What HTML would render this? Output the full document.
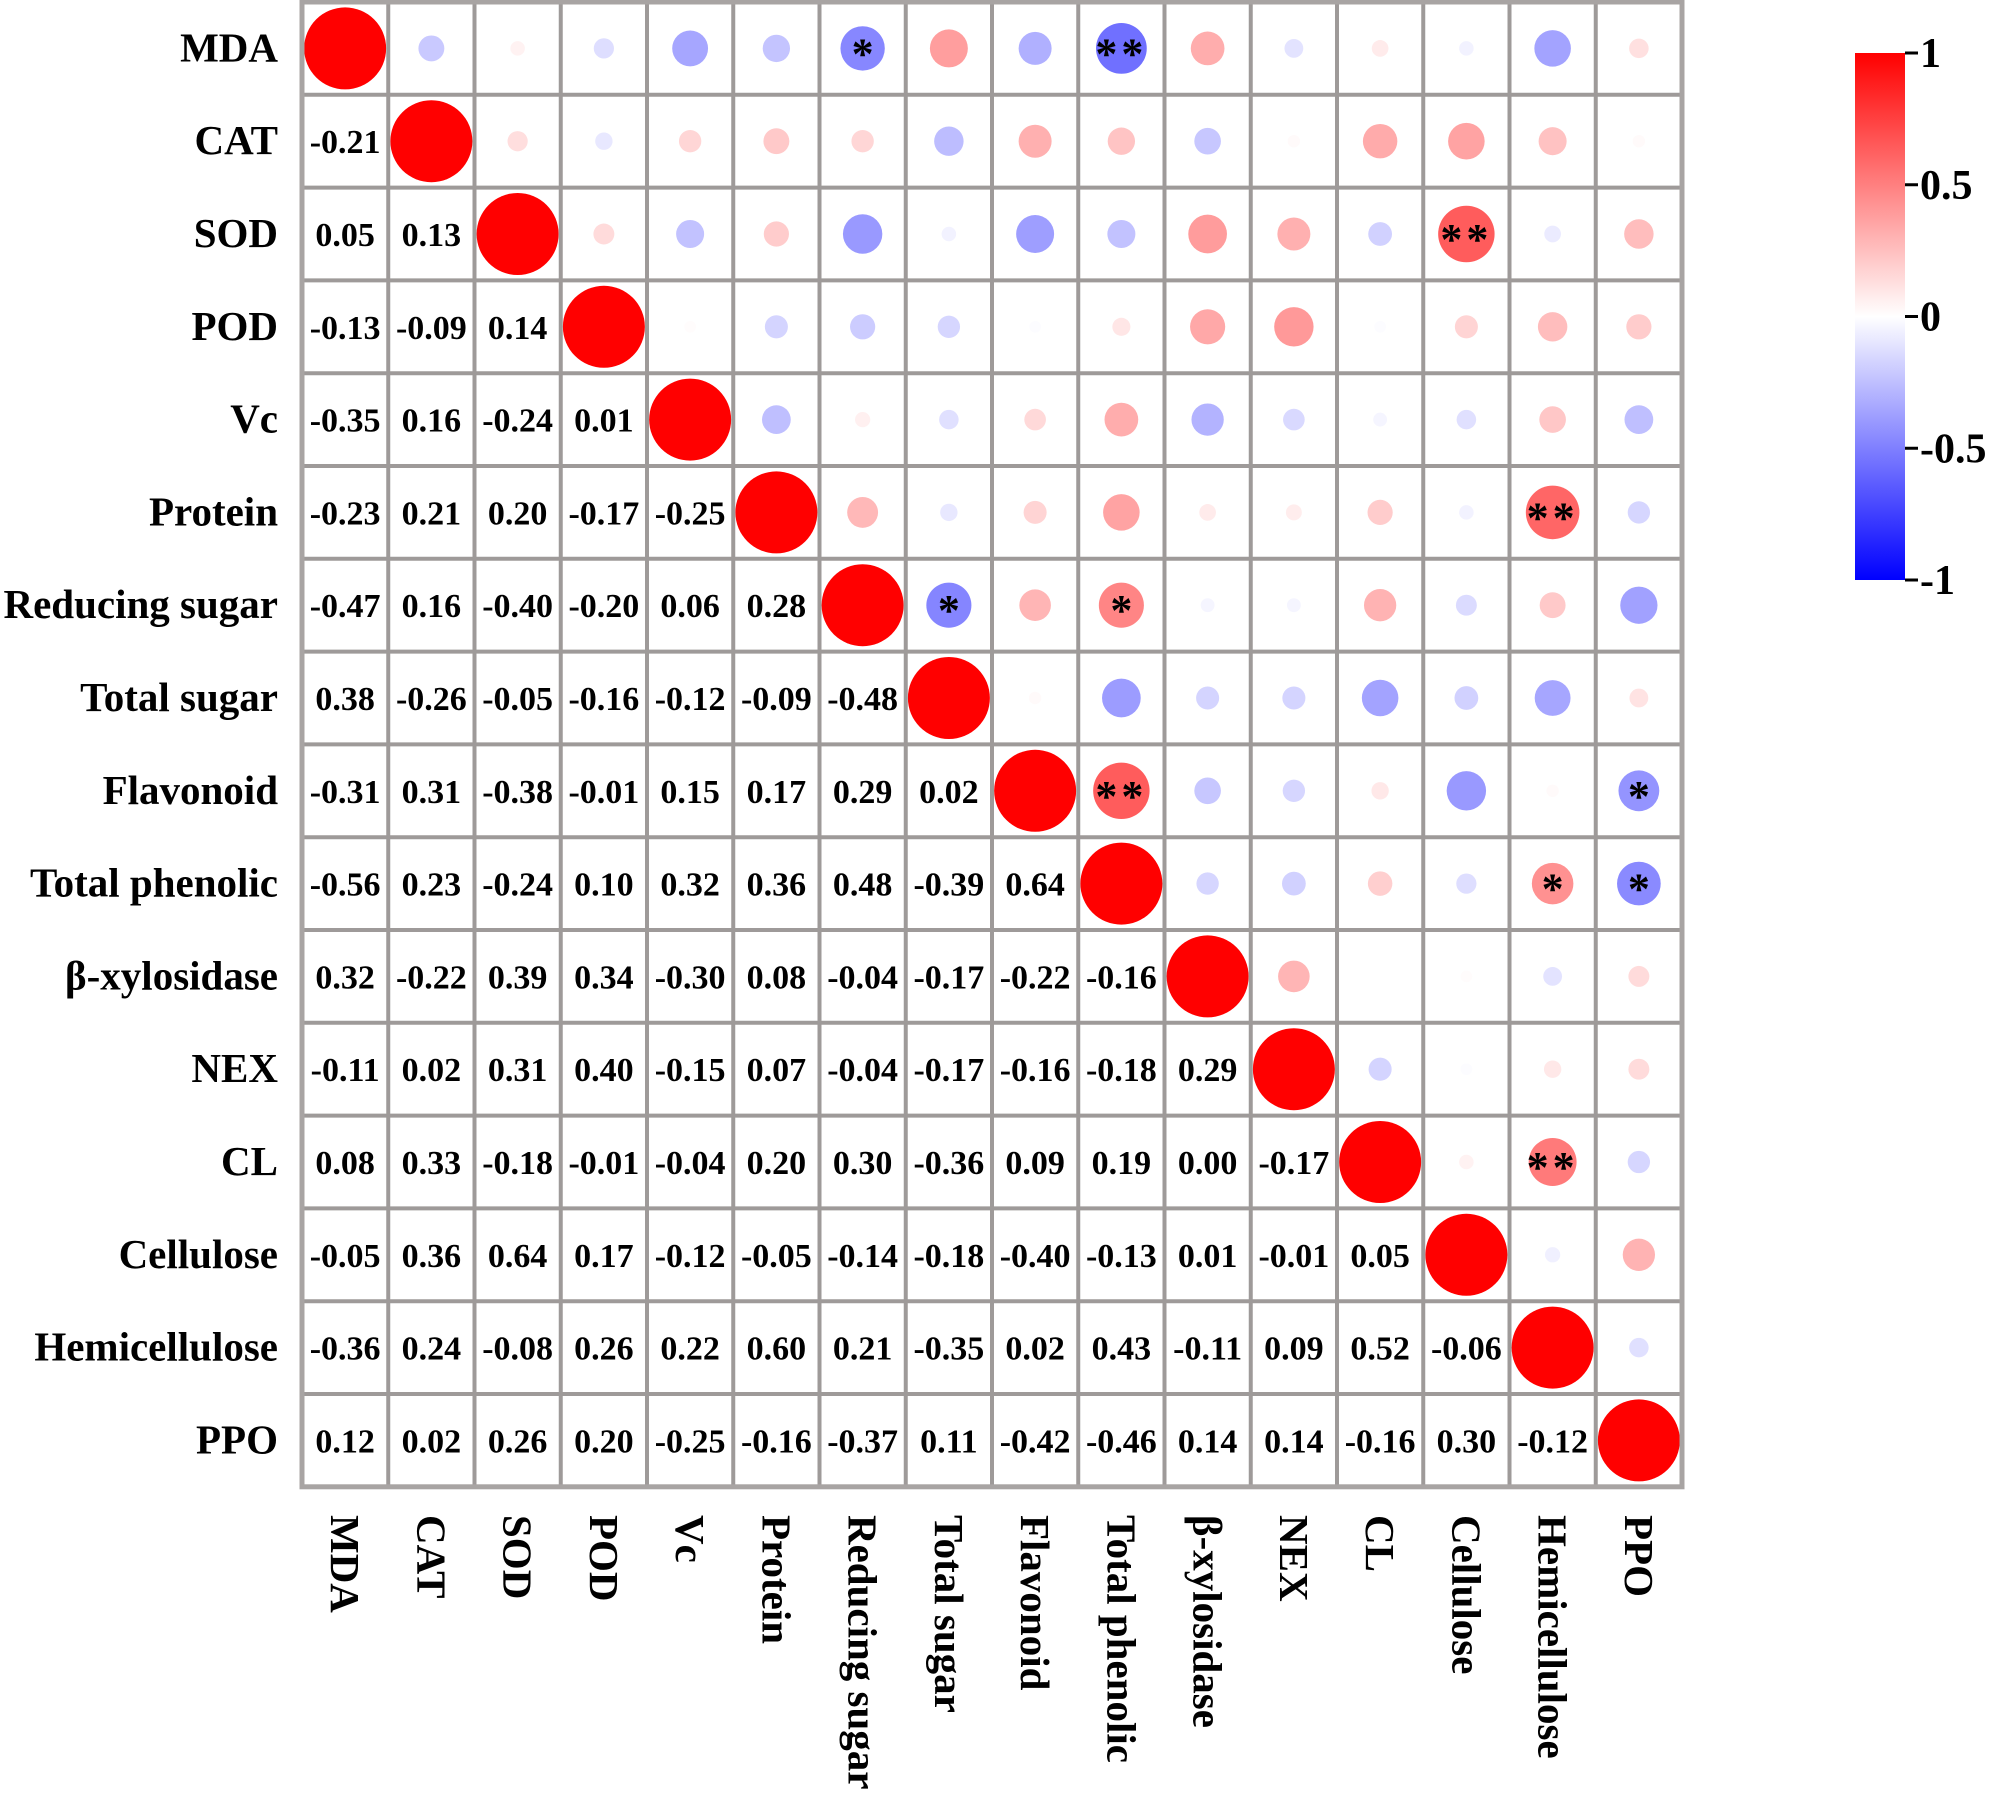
<!DOCTYPE html>
<html><head><meta charset="utf-8"><style>
html,body{margin:0;padding:0;background:#fff;}
svg{display:block;font-family:"Liberation Serif","DejaVu Serif",serif;font-weight:bold;}
</style></head><body>
<svg id="chart" width="1999" height="1795" viewBox="0 0 1999 1795" xmlns="http://www.w3.org/2000/svg">
<defs><linearGradient id="cbg" x1="0" y1="0" x2="0" y2="1">
<stop offset="0" stop-color="#ff0000"/><stop offset="0.5" stop-color="#ffffff"/><stop offset="1" stop-color="#0000ff"/>
</linearGradient></defs>
<g id="cells"></g><g id="grid"></g><g id="labels"></g><g id="cbar"></g>
</svg>
<script>
const variables = ["MDA","CAT","SOD","POD","Vc","Protein","Reducing sugar","Total sugar","Flavonoid","Total phenolic","β-xylosidase","NEX","CL","Cellulose","Hemicellulose","PPO"];
const lowerValues = [
[],
[-0.21],
[0.05,0.13],
[-0.13,-0.09,0.14],
[-0.35,0.16,-0.24,0.01],
[-0.23,0.21,0.20,-0.17,-0.25],
[-0.47,0.16,-0.40,-0.20,0.06,0.28],
[0.38,-0.26,-0.05,-0.16,-0.12,-0.09,-0.48],
[-0.31,0.31,-0.38,-0.01,0.15,0.17,0.29,0.02],
[-0.56,0.23,-0.24,0.10,0.32,0.36,0.48,-0.39,0.64],
[0.32,-0.22,0.39,0.34,-0.30,0.08,-0.04,-0.17,-0.22,-0.16],
[-0.11,0.02,0.31,0.40,-0.15,0.07,-0.04,-0.17,-0.16,-0.18,0.29],
[0.08,0.33,-0.18,-0.01,-0.04,0.20,0.30,-0.36,0.09,0.19,0.00,-0.17],
[-0.05,0.36,0.64,0.17,-0.12,-0.05,-0.14,-0.18,-0.40,-0.13,0.01,-0.01,0.05],
[-0.36,0.24,-0.08,0.26,0.22,0.60,0.21,-0.35,0.02,0.43,-0.11,0.09,0.52,-0.06],
[0.12,0.02,0.26,0.20,-0.25,-0.16,-0.37,0.11,-0.42,-0.46,0.14,0.14,-0.16,0.30,-0.12]
];
const sigRows = [0,0,2,5,6,6,8,8,9,9,12];
const sigCols = [6,9,13,14,7,9,9,15,14,15,14];
const sigStars = ["*","**","**","**","*","*","**","*","*","*","**"];
const cbTicks = [1,0.5,0,-0.5,-1];
const cbTickLabels = ["1","0.5","0","-0.5","-1"];

const NS="http://www.w3.org/2000/svg";
const X0=302,Y0=2,CW=86.25,CH=92.8,N=variables.length;
const xC=j=>X0+CW*(j+0.5), yC=i=>Y0+CH*(i+0.5);
const rad=v=>5.5+35.5*Math.abs(v);
function col(v){v=Math.max(-1,Math.min(1,v));
 if(v>=0){const t=Math.round(255*(1-v));return `rgb(255,${t},${t})`;}
 const t=Math.round(255*(1+v));return `rgb(${t},${t},255)`;}
function el(t,a,p){const e=document.createElementNS(NS,t);for(const k in a)e.setAttribute(k,a[k]);p.appendChild(e);return e;}
function val(i,j){if(i===j)return 1;return i>j?lowerValues[i][j]:lowerValues[j][i];}
const cells=document.getElementById('cells'),grid=document.getElementById('grid'),labels=document.getElementById('labels'),cbar=document.getElementById('cbar');
el('rect',{x:X0,y:Y0,width:CW*N,height:CH*N,fill:'#fff'},cells);
for(let i=0;i<N;i++)for(let j=0;j<N;j++){
 const v=val(i,j);
 if(j<i){
  const t=el('text',{x:xC(j),y:yC(i)+12,'text-anchor':'middle','font-size':34,fill:'#000'},cells);
  t.textContent=v.toFixed(2);
  
  
 } else {
  const c=el('circle',{cx:xC(j),cy:yC(i),r:rad(v),fill:col(v)},cells);
  
  
 }
}
for(let k=0;k<sigRows.length;k++){
 const s=el('text',{x:xC(sigCols[k]),y:yC(sigRows[k])+20,'text-anchor':'middle','font-size':44,fill:'#000','letter-spacing':sigStars[k].length>1?4:0},cells);
 s.textContent=sigStars[k];
 
 
}
for(let k=0;k<=N;k++){
 el('line',{x1:X0+CW*k,y1:Y0,x2:X0+CW*k,y2:Y0+CH*N,stroke:'#9e9a99','stroke-width':4},grid);
 el('line',{x1:X0,y1:Y0+CH*k,x2:X0+CW*N,y2:Y0+CH*k,stroke:'#9e9a99','stroke-width':4},grid);
}
el('rect',{x:X0,y:Y0,width:CW*N,height:CH*N,fill:'none',stroke:'#a8a4a3','stroke-width':5},grid);
for(let i=0;i<N;i++){
 const t=el('text',{x:278,y:yC(i)+13,'text-anchor':'end','font-size':41,fill:'#000'},labels);
 t.textContent=variables[i];
 
 
 const c=el('text',{x:0,y:0,'font-size':41,fill:'#000',transform:`translate(${xC(i)-14},1515) rotate(90)`},labels);
 c.textContent=variables[i];
 
 
}
const CBX=1855,CBW=50,CBT=53,CBB=580;
const cy=v=>CBT+(1-v)/2*(CBB-CBT);
const r=el('rect',{x:CBX,y:CBT,width:CBW,height:CBB-CBT,fill:'url(#cbg)'},cbar);


for(let k=0;k<cbTicks.length;k++){
 el('line',{x1:CBX+CBW,y1:cy(cbTicks[k]),x2:CBX+CBW+13,y2:cy(cbTicks[k]),stroke:'#000','stroke-width':3},cbar);
 const t=el('text',{x:CBX+CBW+15,y:cy(cbTicks[k])+14,'font-size':42,fill:'#000'},cbar);
 t.textContent=cbTickLabels[k];
 
 
}
</script>
</body></html>
